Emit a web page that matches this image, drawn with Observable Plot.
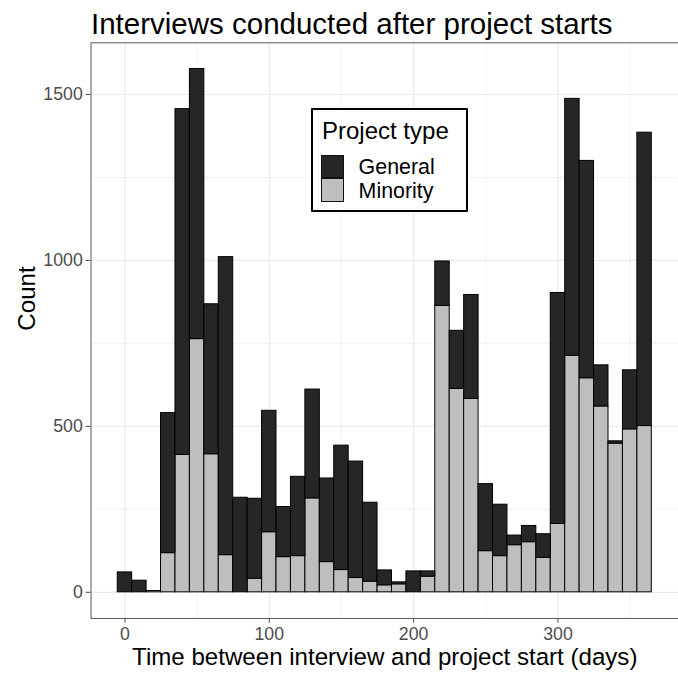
<!DOCTYPE html>
<html>
<head>
<meta charset="utf-8">
<script src="https://cdn.jsdelivr.net/npm/d3@7"></script>
<script src="https://cdn.jsdelivr.net/npm/@observablehq/plot@0.6"></script>
<style>
  html, body { margin: 0; padding: 0; overflow: hidden; background: #fff; width: 678px; height: 685px; }
  #wrap { position: relative; width: 678px; height: 685px; overflow: hidden; font-family: "Liberation Sans", Arial, Helvetica, sans-serif; }
  #wrap svg { position: absolute; left: 0; top: 0; }
  .abs { position: absolute; line-height: 1; white-space: nowrap; }
</style>
</head>
<body>
<div id="wrap"></div>
<script>
// ---- data ----
const chartTitle = "Interviews conducted after project starts";
const xLabel = "Time between interview and project start (days)";
const yLabel = "Count";
const legendTitle = "Project type";
const seriesNames = ["General", "Minority"];
const binWidth = 10;
const binCenters = [0, 10, 20, 30, 40, 50, 60, 70, 80, 90, 100, 110, 120, 130, 140, 150, 160, 170, 180, 190,
                    200, 210, 220, 230, 240, 250, 260, 270, 280, 290, 300, 310, 320, 330, 340, 350, 360];
const generalCounts = [60, 35, 0, 422, 1042, 814, 452, 898, 285, 241, 366, 151, 239, 328, 252, 375, 351, 238, 45, 6,
                       63, 16, 134, 175, 313, 202, 155, 29, 49, 71, 696, 774, 655, 124, 7, 178, 884];
const minorityCounts = [0, 0, 4, 118, 414, 763, 416, 112, 0, 41, 181, 106, 109, 283, 91, 67, 43, 32, 21, 24,
                        0, 47, 863, 613, 583, 124, 109, 142, 151, 104, 206, 713, 645, 560, 448, 491, 501];
const xTicks = [0, 100, 200, 300];
const xMinorTicks = [50, 150, 250, 350];
const yTicks = [0, 500, 1000, 1500];
const yMinorTicks = [250, 750, 1250];
const seriesColors = ["#262626", "#bebebe"];

// ---- table for the library (Minority first so it stacks at the bottom) ----
const rows = [];
binCenters.forEach((c, i) => rows.push({x1: c - binWidth / 2, x2: c + binWidth / 2, type: seriesNames[1], count: minorityCounts[i]}));
binCenters.forEach((c, i) => rows.push({x1: c - binWidth / 2, x2: c + binWidth / 2, type: seriesNames[0], count: generalCounts[i]}));

// ggplot-like 5% expansion of the data range
const xMin = binCenters[0] - binWidth / 2, xMax = binCenters[binCenters.length - 1] + binWidth / 2;
const xPad = (xMax - xMin) * 0.05;
const totals = binCenters.map((c, i) => generalCounts[i] + minorityCounts[i]);
const yMax = d3.max(totals);
const yPad = yMax * 0.05;

const plot = Plot.plot({
  width: 689,
  height: 685,
  marginLeft: 92,
  marginRight: 0,
  marginTop: 43,
  marginBottom: 57,
  style: {fontFamily: '"Liberation Sans", Arial, Helvetica, sans-serif', background: "transparent", overflow: "visible"},
  x: {domain: [xMin - xPad, xMax + xPad]},
  y: {domain: [-yPad, yMax + yPad]},
  color: {domain: seriesNames, range: seriesColors},
  marks: [
    Plot.gridX(xMinorTicks, {stroke: "#ebebeb", strokeOpacity: 1, strokeWidth: 0.6}),
    Plot.gridY(yMinorTicks, {stroke: "#ebebeb", strokeOpacity: 1, strokeWidth: 0.6}),
    Plot.gridX(xTicks, {stroke: "#ebebeb", strokeOpacity: 1, strokeWidth: 1.2}),
    Plot.gridY(yTicks, {stroke: "#ebebeb", strokeOpacity: 1, strokeWidth: 1.2}),
    Plot.rectY(rows, {x1: "x1", x2: "x2", y: "count", fill: "type", stroke: "#000", strokeWidth: 1, inset: 0, order: null}),
    Plot.frame({stroke: "#555", strokeWidth: 1}),
    Plot.axisX(xTicks, {label: null, tickSize: 5, tickPadding: 4.3, fontSize: 18, color: "#4d4d4d", tickFormat: d3.format("d")}),
    Plot.axisY(yTicks, {label: null, tickSize: 5, tickPadding: 3.4, fontSize: 18, color: "#4d4d4d", tickFormat: d3.format("d")}),
    Plot.text([xLabel], {frameAnchor: "bottom", dy: 47, lineAnchor: "bottom", fontSize: 24.5, fill: "#000"}),
    Plot.text([yLabel], {frameAnchor: "left", dx: -65, rotate: -90, fontSize: 24.5, fill: "#000"})
  ]
});

const wrap = document.getElementById("wrap");
wrap.appendChild(plot);

// title
const t = document.createElement("div");
t.className = "abs";
t.textContent = chartTitle;
Object.assign(t.style, {left: "91px", top: "9px", fontSize: "29.5px", color: "#000"});
wrap.appendChild(t);

// legend
const lg = document.createElement("div");
Object.assign(lg.style, {position: "absolute", left: "311px", top: "108px", width: "157px", height: "104px",
  border: "2px solid #000", boxSizing: "border-box", background: "#fff", borderRadius: "1px"});
const lt = document.createElement("div");
lt.className = "abs";
lt.textContent = legendTitle;
Object.assign(lt.style, {left: "9px", top: "9.9px", fontSize: "24px", color: "#000", lineHeight: "0.9"});
lg.appendChild(lt);
const keyH = 23.5;
seriesNames.forEach((name, i) => {
  const key = document.createElement("div");
  Object.assign(key.style, {position: "absolute", left: "8px", top: (44.5 + keyH * i) + "px", width: "23px", height: keyH + "px",
    background: seriesColors[i], border: "1px solid #111", boxSizing: "border-box"});
  lg.appendChild(key);
  const lab = document.createElement("div");
  lab.className = "abs";
  lab.textContent = name;
  Object.assign(lab.style, {left: "45.6px", top: (47.6 + 24 * i) + "px", fontSize: "21.4px", color: "#000", lineHeight: "0.9"});
  lg.appendChild(lab);
});
wrap.appendChild(lg);
</script>
</body>
</html>
